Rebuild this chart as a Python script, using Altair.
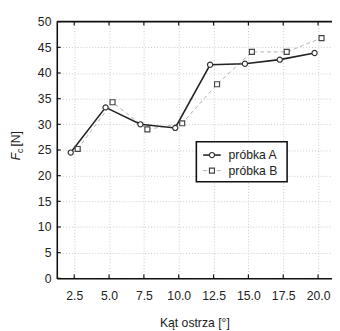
import altair as alt
import pandas as pd

# data
a_x = [2.25, 4.75, 7.25, 9.75, 12.25, 14.75, 17.25, 19.75]
a_y = [24.5, 33.3, 30.0, 29.3, 41.6, 41.8, 42.6, 43.9]
b_x = [2.75, 5.25, 7.75, 10.25, 12.75, 15.25, 17.75, 20.25]
b_y = [25.2, 34.3, 29.0, 30.2, 37.8, 44.1, 44.1, 46.8]
x_ticks = [2.5, 5.0, 7.5, 10.0, 12.5, 15.0, 17.5, 20.0]
y_ticks = [0, 5, 10, 15, 20, 25, 30, 35, 40, 45, 50]
legend_labels = ["próbka A", "próbka B"]

W, H = 282, 263
FONT = "Liberation Sans"

dfa = pd.DataFrame({"x": a_x, "y": a_y})
dfb = pd.DataFrame({"x": b_x, "y": b_y})
dfxt = pd.DataFrame({"x": x_ticks})
dfyt = pd.DataFrame({"y": y_ticks})
one = pd.DataFrame({"k": [0]})

xs = alt.Scale(domain=[1.25, 21.0], nice=False, zero=False)
ys = alt.Scale(domain=[0, 50], nice=False)

xaxis = alt.Axis(values=x_ticks, format=".1f", ticks=False, labelPadding=12,
                 title="Kąt ostrza [°]", titlePadding=15, grid=True,
                 gridDash=[1, 2], gridColor="#c8c8c8", domainColor="#111",
                 domainWidth=1.6, labelOverlap=False)
yaxis = alt.Axis(values=y_ticks, ticks=False, labelPadding=6, title=None,
                 grid=True, gridDash=[1, 2], gridColor="#c8c8c8",
                 domainColor="#111", domainWidth=1.6, labelOverlap=False)

X = alt.X("x:Q", scale=xs, axis=xaxis)
Y = alt.Y("y:Q", scale=ys, axis=yaxis)

line_b = alt.Chart(dfb).mark_line(color="#b0b0b0", strokeWidth=1, strokeDash=[4, 3]).encode(x=X, y=Y)
pts_b = alt.Chart(dfb).mark_point(shape="square", filled=False, fill="white",
                                  fillOpacity=1, stroke="#444", strokeWidth=1.2,
                                  size=26, opacity=1).encode(x=X, y=Y)
line_a = alt.Chart(dfa).mark_line(color="#222", strokeWidth=1.6).encode(x=X, y=Y)
pts_a = alt.Chart(dfa).mark_point(shape="circle", filled=False, fill="white", fillOpacity=1,
                                  stroke="#333", strokeWidth=1.2, size=28, opacity=1).encode(x=X, y=Y)

# inward tick marks and top border
top_ticks = alt.Chart(dfxt).mark_rule(color="#111", strokeWidth=1.2).encode(
    x=alt.X("x:Q", scale=xs, axis=xaxis), y=alt.value(0), y2=alt.value(4))
bot_ticks = alt.Chart(dfxt).mark_rule(color="#111", strokeWidth=1.2).encode(
    x=alt.X("x:Q", scale=xs, axis=xaxis), y=alt.value(H), y2=alt.value(H - 4))
left_ticks = alt.Chart(dfyt).mark_rule(color="#111", strokeWidth=1.2).encode(
    y=alt.Y("y:Q", scale=ys, axis=yaxis), x=alt.value(0), x2=alt.value(4))
top_border = alt.Chart(one).mark_rule(color="#111", strokeWidth=1.6).encode(
    x=alt.value(0), x2=alt.value(W), y=alt.value(0))

# legend (manual box)
lx0, lx1, ly0, ly1 = 143, 236, 123, 164
ra, rb = 136.7, 152.7
leg_box = alt.Chart(one).mark_rect(fill="white", stroke="#111", strokeWidth=1.6).encode(
    x=alt.value(lx0), x2=alt.value(lx1), y=alt.value(ly0), y2=alt.value(ly1))
leg_la = alt.Chart(one).mark_rule(color="#222", strokeWidth=1.6).encode(
    x=alt.value(150), x2=alt.value(168), y=alt.value(ra))
leg_pa = alt.Chart(one).mark_point(shape="circle", filled=False, fill="white", fillOpacity=1,
                                   stroke="#333", strokeWidth=1.2, size=28, opacity=1).encode(
    x=alt.value(159), y=alt.value(ra))
leg_lb = alt.Chart(one).mark_rule(color="#b0b0b0", strokeWidth=1, strokeDash=[4, 3]).encode(
    x=alt.value(150), x2=alt.value(168), y=alt.value(rb))
leg_pb = alt.Chart(one).mark_point(shape="square", filled=False, fill="white", fillOpacity=1,
                                   stroke="#444", strokeWidth=1.2, size=26, opacity=1).encode(
    x=alt.value(159), y=alt.value(rb))
leg_ta = alt.Chart(one).mark_text(align="left", baseline="middle", font=FONT,
                                  fontSize=12.5, color="#222", text=legend_labels[0]).encode(
    x=alt.value(176), y=alt.value(ra))
leg_tb = alt.Chart(one).mark_text(align="left", baseline="middle", font=FONT,
                                  fontSize=12.5, color="#222", text=legend_labels[1]).encode(
    x=alt.value(176), y=alt.value(rb))

# y axis title F_c [N]
t_f = alt.Chart(one).mark_text(angle=270, align="left", baseline="alphabetic", font=FONT,
                               fontSize=12.5, fontStyle="italic", color="#222", text="F").encode(
    x=alt.value(-38), y=alt.value(142))
t_c = alt.Chart(one).mark_text(angle=270, align="left", baseline="alphabetic", font=FONT,
                               fontSize=9, fontStyle="italic", color="#222", text="c").encode(
    x=alt.value(-35), y=alt.value(134.5))
t_n = alt.Chart(one).mark_text(angle=270, align="left", baseline="alphabetic", font=FONT,
                               fontSize=12.5, color="#222", text="[N]").encode(
    x=alt.value(-38), y=alt.value(128))

chart = alt.layer(
    line_b, line_a, pts_b, pts_a, top_ticks, bot_ticks, left_ticks, top_border,
    leg_box, leg_la, leg_pa, leg_lb, leg_pb, leg_ta, leg_tb, t_f, t_c, t_n
).properties(
    width=W, height=H,
    autosize=alt.AutoSizeParams(type="none"),
    padding={"left": 50, "top": 10, "right": 0, "bottom": 50},
).configure_view(stroke=None).configure_axis(
    labelFont=FONT, labelFontSize=12.5, labelColor="#222",
    titleFont=FONT, titleFontSize=12.5, titleColor="#222", titleFontWeight="normal",
)

chart.save("out.html", embed_options={"renderer": "svg", "actions": False})
